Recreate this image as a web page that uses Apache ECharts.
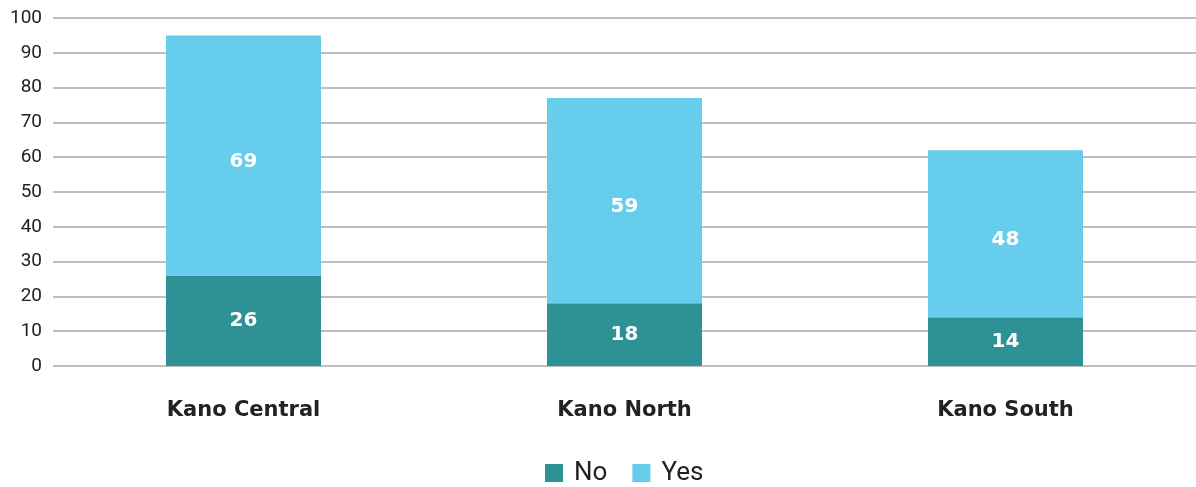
<!DOCTYPE html>
<html>
<head>
<meta charset="utf-8">
<script src="https://cdn.jsdelivr.net/npm/echarts@6/dist/echarts.min.js"></script>
<style>html,body{margin:0;padding:0;background:#fff}#c{width:1196px;height:487px}</style>
</head>
<body>
<div id="c"></div>
<script>
const categories = ['Kano Central', 'Kano North', 'Kano South'];
const noValues = [26, 18, 14];
const yesValues = [69, 59, 48];
const seriesNames = ['No', 'Yes'];

const chart = echarts.init(document.getElementById('c'), null, {renderer: 'canvas'});
const labelStyle = {show: true, position: 'inside', color: '#fff', fontSize: 20, fontWeight: 'bold', fontFamily: 'DejaVu Sans'};
chart.setOption({
  animation: false,
  grid: {left: 53, right: -4, top: 18, bottom: 121},
  legend: {
    top: 455, left: 540, itemWidth: 18, itemHeight: 18, itemGap: 25,
    icon: 'rect',
    textStyle: {fontSize: 26, color: '#222', fontFamily: 'Roboto', padding: [0, 0, 0, 6]},
    data: seriesNames
  },
  xAxis: {
    type: 'category', data: categories,
    axisLine: {show: false}, axisTick: {show: false},
    axisLabel: {margin: 34, fontSize: 21, fontWeight: 'bold', color: '#222', fontFamily: 'DejaVu Sans'}
  },
  yAxis: {
    type: 'value', min: 0, max: 100, interval: 10,
    axisLine: {show: false}, axisTick: {show: false},
    axisLabel: {margin: 11, fontSize: 19, color: '#222', fontFamily: 'Roboto'},
    splitLine: {lineStyle: {color: '#aaaaaa', width: 1.5}}
  },
  series: [
    {name: seriesNames[0], type: 'bar', stack: 'a', data: noValues, barWidth: 155,
     itemStyle: {color: '#2E9196'}, label: labelStyle},
    {name: seriesNames[1], type: 'bar', stack: 'a', data: yesValues, barWidth: 155,
     itemStyle: {color: '#67CDEC'}, label: Object.assign({}, labelStyle, {offset: [0, 6]})}
  ]
});
</script>
</body>
</html>
